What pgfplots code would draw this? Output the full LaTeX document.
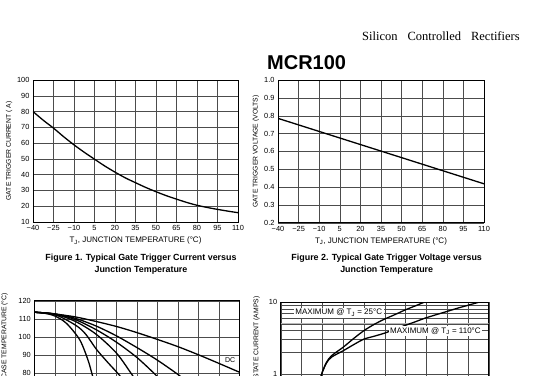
\documentclass[border=0pt]{standalone}
\usepackage{pgfplots}
\pgfplotsset{compat=1.18}
\usepackage{fontspec}
\setmainfont{Liberation Sans}
\newfontfamily\seriffont{Liberation Serif}
\begin{document}
\begin{tikzpicture}
\useasboundingbox (0,0) rectangle (541pt,375pt);
\clip (0,0) rectangle (541pt,375pt);
\fill[white] (0,0) rectangle (541pt,375pt);
\pgfplotsset{
  dsheet/.style={
    scale only axis,
    grid=major,
    major grid style={black!70,line width=0.35pt},
    minor grid style={black!70,line width=0.35pt},
    axis line style={black,line width=0.5pt},
    tick style={draw=none},
    ticklabel style={font=\fontsize{7.4}{8}\selectfont},
    /pgf/number format/assume math mode=true,
    label style={font=\fontsize{6.8}{8}\selectfont},
    xlabel style={font=\fontsize{8}{9}\selectfont},
  },
  curve/.style={black,line width=1.3pt,smooth,no marks},
}
% Top texts
\node[anchor=base west,font=\seriffont\fontsize{12.5}{14}\selectfont,inner sep=0pt] at (362pt,334pt) {Silicon\hspace{10pt}Controlled\hspace{10pt}Rectifiers};
\node[anchor=base west,font=\bfseries\fontsize{20}{22}\selectfont,inner sep=0pt] at (267pt,305.7pt) {MCR100};

% Figure 1
\begin{axis}[dsheet,
  at={(33pt,153pt)},anchor=south west,width=205pt,height=142pt,
  xmin=-40,xmax=110,ymin=10,ymax=100,
  xtick={-40,-25,...,110},
  xticklabels={−40,−25,−10,5,20,35,50,65,80,95,110},
  ytick={10,20,...,100},
  xlabel={T\textsubscript{J}, JUNCTION TEMPERATURE (\textdegree C)},
  xlabel style={at={(axis description cs:0.5,0)},anchor=center,yshift=-18.7pt},
  ylabel={GATE TRIGGER CURRENT ( A)},
  ylabel style={at={(axis description cs:-0.117,0.5)},anchor=center},
]
\addplot[curve] coordinates {(-40,80) (-32.5,74.5) (-25,69.5) (-17.5,64) (-10,58.9) (-2.5,54.2) (5,49.8) (12.5,45.5) (20,41.6) (27.5,38) (35,34.9) (42.5,31.9) (50,29.2) (57.5,26.7) (65,24.5) (72.5,22.4) (80,20.6) (87.5,19.2) (95,18) (102.5,16.9) (110,15.9)};
\end{axis}

% Figure 2
\begin{axis}[dsheet,
  at={(278pt,152.3pt)},anchor=south west,width=206pt,height=142.7pt,
  xmin=-40,xmax=110,ymin=0.2,ymax=1.0,
  xtick={-40,-25,...,110},
  xticklabels={−40,−25,−10,5,20,35,50,65,80,95,110},
  ytick={0.2,0.3,...,1.0},
  yticklabels={0.2,0.3,0.4,0.5,0.6,0.7,0.8,0.9,1.0},
  xlabel={T\textsubscript{J}, JUNCTION TEMPERATURE (\textdegree C)},
  xlabel style={at={(axis description cs:0.5,0)},anchor=center,yshift=-18.4pt},
  ylabel={GATE TRIGGER VOLTAGE (VOLTS)},
  ylabel style={at={(axis description cs:-0.107,0.5)},anchor=center},
]
\addplot[black,line width=1.3pt,no marks] coordinates {(-40,0.785) (110,0.418)};
\end{axis}

% Captions
\node[font=\bfseries\fontsize{8.9}{11.7}\selectfont,align=center] at (141pt,111pt) {Figure 1. Typical Gate Trigger Current versus\\Junction Temperature};
\node[font=\bfseries\fontsize{8.9}{11.7}\selectfont,align=center] at (386.7pt,111pt) {Figure 2. Typical Gate Trigger Voltage versus\\Junction Temperature};

% Figure 3
\begin{axis}[dsheet,
  at={(34.3pt,74.3pt)},anchor=north west,width=205pt,height=144pt,
  xmin=0,xmax=10,ymin=40,ymax=120,
  xtick={0,1,...,10},xticklabels={,,,,,,,,,,},
  ytick={40,50,...,120},
  yticklabels={,,,,80,90,100,110,120},
  ylabel={T\textsubscript{C}, MAXIMUM ALLOWABLE CASE TEMPERATURE (\textdegree C)},
  ylabel style={at={(axis description cs:-0.145,1.076)},anchor=east},
]
\addplot[curve] coordinates {(0,113.6) (1,112.6) (2,111) (3,108.5) (4,105.7) (5,102.3) (6,98.5) (7,94.5) (8,90) (9,85.2) (10,80.3)};
\addplot[curve] coordinates {(0,113.6) (0.5,113) (1,111.5) (1.57,107.4) (2.22,98.2) (2.62,87) (2.83,78.7) (3.0,72)};
\addplot[curve] coordinates {(0,113.6) (1,112.3) (2,106.5) (2.5,101.5) (3.03,93) (3.6,85.5) (4.16,78.5) (4.4,74)};
\addplot[curve] coordinates {(0,113.6) (1,112.5) (2,108.5) (3,101.5) (4,91) (4.7,80) (5,75)};
\addplot[curve] coordinates {(0,113.6) (1,112.6) (2,109.5) (3,104) (4,97) (5,88.5) (5.9,79) (6.2,75)};
\addplot[curve] coordinates {(0,113.6) (1,112.7) (2,110.2) (3,106) (4,100.5) (5,94) (6,87) (7.07,78.5) (7.4,75)};
\node[font=\fontsize{7}{8}\selectfont] at (axis cs:9.55,86.8) {DC};
\end{axis}

% Figure 4
\begin{axis}[dsheet,
  at={(280.7pt,73pt)},anchor=north west,width=208pt,height=144pt,
  ymode=log,
  xmin=0,xmax=10,ymin=0.1,ymax=10,
  xtick={0,1,...,10},xticklabels={,,,,,,,,,,},
  ytick={0.1,1,10},yticklabels={,1,10},
  grid=both,
  ylabel={i\textsubscript{T}, INSTANTANEOUS ON-STATE CURRENT (AMPS)},
  ylabel style={at={(axis description cs:-0.116,1.0625)},anchor=east},
]
\addplot[gray!55,line width=1.3pt,no marks] coordinates {(0,5) (10,5)};
\addplot[curve] coordinates {(1.85,0.7) (1.97,1) (2.2,1.45) (2.45,1.8) (3,2.35) (3.5,3.1) (4,4.0) (4.5,4.9) (5,5.8) (5.5,6.7) (6,7.8) (6.5,8.9) (6.92,10)};
\addplot[curve] coordinates {(1.85,0.7) (1.97,1) (2.2,1.42) (2.45,1.72) (3,2.1) (3.5,2.55) (4,3.05) (4.5,3.35) (5,3.7) (5.5,4.2) (6,4.75) (6.5,5.35) (6.92,5.94) (7.5,6.7) (8,7.4) (8.5,8.2) (9,9.0) (9.56,10)};
\node[fill=white,inner sep=1.5pt,font=\fontsize{8}{9}\selectfont] at (axis cs:2.79,7.1) {MAXIMUM @ T\textsubscript{J} = 25\textdegree C};
\node[fill=white,inner sep=1.5pt,font=\fontsize{8}{9}\selectfont] at (axis cs:7.44,3.95) {MAXIMUM @ T\textsubscript{J} = 110\textdegree C};
\end{axis}
\end{tikzpicture}
\end{document}
